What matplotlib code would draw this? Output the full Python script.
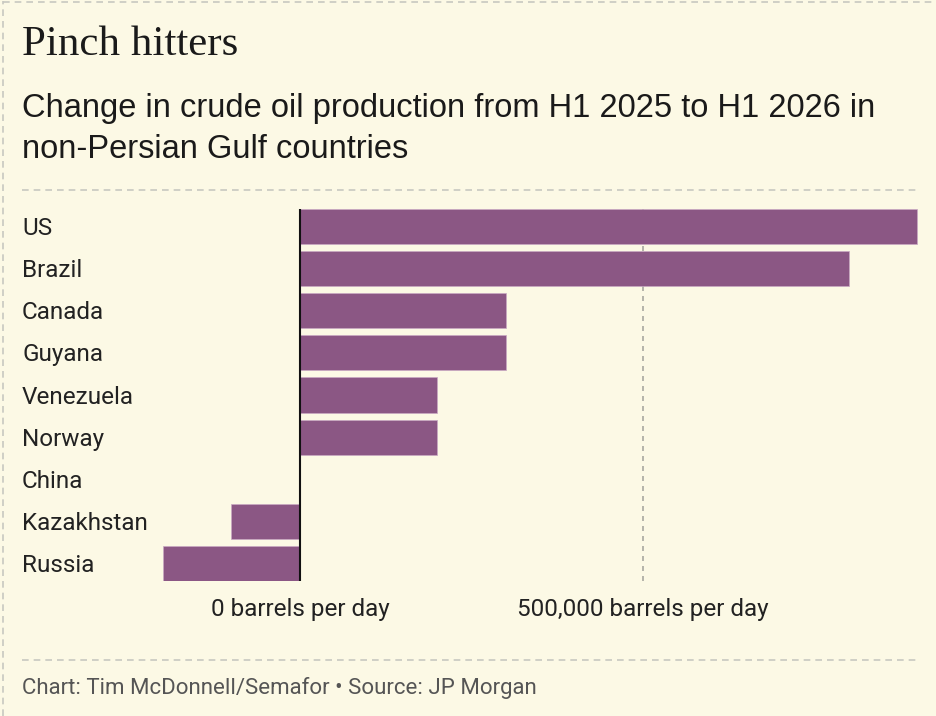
import matplotlib.pyplot as plt
from matplotlib.lines import Line2D
from matplotlib.transforms import blended_transform_factory

# data (thousand barrels per day, change H1 2025 -> H1 2026)
countries = ["US", "Brazil", "Canada", "Guyana", "Venezuela", "Norway",
             "China", "Kazakhstan", "Russia"]
change_kbd = [900, 800, 300, 300, 200, 200, 0, -100, -200]
tick_values = [0, 500]
tick_labels = ["0 barrels per day", "500,000 barrels per day"]

BG = "#FCF9E5"
BAR = "#8B5784"
W, H = 936, 716

fig = plt.figure(figsize=(W / 100, H / 100), dpi=100, facecolor=BG)


def px(x, y):
    return x / W, 1 - y / H


# axes placed in pixel space
ax_l, ax_r, ax_t, ax_b = 160, 920, 209, 581
ax = fig.add_axes([ax_l / W, 1 - ax_b / H, (ax_r - ax_l) / W, (ax_b - ax_t) / H])
ax.set_facecolor(BG)

scale = 343 / 500  # pixels per thousand b/d
ax.set_xlim((ax_l - 300) / scale, (ax_r - 300) / scale)
ax.set_ylim(len(countries) - 1 + 0.4167, -0.4167)

ypos = range(len(countries))
ax.barh(ypos, change_kbd, height=0.833, color=BAR, edgecolor="#C9A9C3",
        linewidth=0.5, zorder=2)
ax.axvline(500, color="#A8A8A0", lw=1.2, ls=(0, (3, 3)), zorder=1)
ax.axvline(0, color="#111111", lw=1.5, zorder=3)

for s in ax.spines.values():
    s.set_visible(False)
ax.set_xticks([])
ax.set_yticks([])

lab_font = ["Roboto", "DejaVu Sans"]
# labels sit on a baseline ~8.5px below each bar centre
pitch = (ax_b - ax_t) / (len(countries) - 1 + 0.833)
for i, c in enumerate(countries):
    yc = ax_t + pitch * 0.4167 + pitch * i
    fig.text(*px(22, yc + 8.5), c, ha="left", va="baseline",
             fontsize=17.5, family=lab_font, color="#222222")

trx = blended_transform_factory(ax.transData, fig.transFigure)
for v, t in zip(tick_values, tick_labels):
    ax.text(v, 1 - 616 / H, t, transform=trx, ha="center", va="baseline",
            fontsize=17.5, family=lab_font, color="#222222")

# titles
fig.text(*px(22, 55), "Pinch hitters", fontsize=31, family="Liberation Serif",
         color="#1a1a1a", va="baseline")
fig.text(*px(22, 117), "Change in crude oil production from H1 2025 to H1 2026 in",
         fontsize=23.5, family="Liberation Sans", color="#1a1a1a", va="baseline")
fig.text(*px(22, 158), "non-Persian Gulf countries",
         fontsize=23.5, family="Liberation Sans", color="#1a1a1a", va="baseline")

fig.text(*px(22, 694), "Chart: Tim McDonnell/Semafor \u2022 Source: JP Morgan",
         fontsize=16, family=lab_font, color="#555555", va="baseline")

# dashed separators and frame
dash = dict(color="#C8C8C0", lw=1.2, ls=(0, (4, 3)), transform=fig.transFigure)
for y in (190, 660):
    fig.add_artist(Line2D([22 / W, 918 / W], [1 - y / H, 1 - y / H], **dash))
fig.add_artist(Line2D([3 / W, 3 / W], [0, 1 - 1 / H], **dash))
fig.add_artist(Line2D([3 / W, 1], [1 - 1.5 / H, 1 - 1.5 / H], **dash))

fig.savefig("out.png", dpi=100, facecolor=BG)
